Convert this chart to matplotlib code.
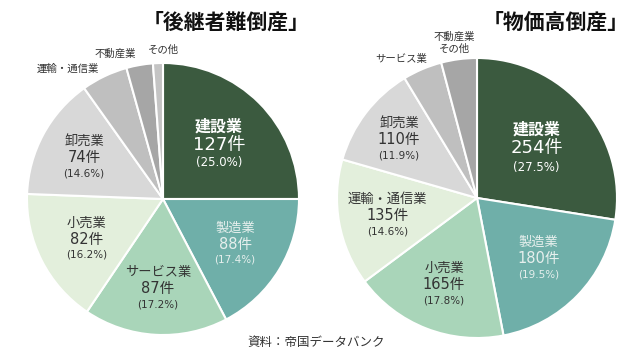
import numpy as np
import matplotlib
matplotlib.use('Agg')
import matplotlib.pyplot as plt

plt.rcParams['font.family'] = ['Noto Sans CJK JP', 'DejaVu Sans']
num_family = ['DejaVu Sans', 'Noto Sans CJK JP']

# 「後継者難倒産」
left_title = '「後継者難倒産」'
left_labels = ['建設業', '製造業', 'サービス業', '小売業', '卸売業', '運輸・通信業', '不動産業', 'その他']
left_counts = [127, 88, 87, 82, 74, 28, 16, 6]
left_pcts = [25.0, 17.4, 17.2, 16.2, 14.6, 5.5, 3.1, 1.2]

# 「物価高倒産」
right_title = '「物価高倒産」'
right_labels = ['建設業', '製造業', '小売業', '運輸・通信業', '卸売業', 'サービス業', '不動産業\nその他']
right_counts = [254, 180, 165, 135, 110, 42, 38]
right_pcts = [27.5, 19.5, 17.8, 14.6, 11.9, 4.5, 4.1]

source = '資料：帝国データバンク'

c_dark = '#3b5a3f'
c_teal = '#6fafa9'
c_mid = '#a9d5b9'
c_pale = '#e3efdc'
c_lg = '#d8d8d8'
c_g1 = '#bfbfbf'
c_g2 = '#a6a6a6'
c_g3 = '#c4c4c4'

left_colors = [c_dark, c_teal, c_mid, c_pale, c_lg, c_g1, c_g2, c_g3]
right_colors = [c_dark, c_teal, c_mid, c_pale, c_lg, c_g1, c_g2]
text_colors = ['white', '#e6efed', '#333333', '#333333', '#333333']

W, H = 640, 361
fig = plt.figure(figsize=(6.4, 3.61), dpi=100)


def draw_pie(cx, cy, r, counts, pcts, labels, colors, n_inside, outer_pos, lab_r):
    ax = fig.add_axes([(cx - r) / W, (H - cy - r) / H, 2 * r / W, 2 * r / H])
    wedges, _ = ax.pie(counts, colors=colors, startangle=90, counterclock=False,
                       wedgeprops=dict(edgecolor='white', linewidth=1.5))
    ax.set_xlim(-1, 1)
    ax.set_ylim(-1, 1)
    ax.axis('off')
    for i in range(n_inside):
        w = wedges[i]
        ang = np.deg2rad((w.theta1 + w.theta2) / 2)
        x, y = lab_r[i] * np.cos(ang), lab_r[i] * np.sin(ang)
        col = text_colors[i]
        big = i == 0
        step = 0.125 if big else 0.105
        ax.text(x, y + step, labels[i], ha='center', va='center', color=col,
                fontsize=11.5 if big else 9.5, fontweight='bold' if big else 'normal')
        ax.text(x, y - 0.01, f'{counts[i]}件', ha='center', va='center', color=col,
                fontsize=13 if big else 10.5, family=num_family)
        ax.text(x, y - step - 0.02, f'({pcts[i]:.1f}%)', ha='center', va='center', color=col,
                fontsize=8.5 if big else 7.5, family=num_family)
    for i, (x, y) in zip(range(n_inside, len(labels)), outer_pos):
        ax.text(x, y, labels[i], ha='center', va='center', color='#333333', fontsize=7.5,
                linespacing=1.3)
    return ax


draw_pie(163, 199, 136, left_counts, left_pcts, left_labels, left_colors, 5,
         [(-0.70, 0.96), (-0.35, 1.07), (0.0, 1.10)],
         [0.58, 0.62, 0.65, 0.63, 0.66])
draw_pie(477, 198, 140, right_counts, right_pcts, right_labels, right_colors, 5,
         [(-0.54, 0.99), (-0.16, 1.11)],
         [0.56, 0.61, 0.65, 0.65, 0.70])

fig.text(226 / W, 1 - 22 / H, left_title, ha='center', va='center', fontsize=15,
         fontweight='bold', color='#111111')
fig.text(556 / W, 1 - 22 / H, right_title, ha='center', va='center', fontsize=15,
         fontweight='bold', color='#111111')
fig.text(316 / W, 1 - 342 / H, source, ha='center', va='center', fontsize=9, color='#333333')

fig.savefig('out.png', dpi=100, facecolor='white')
